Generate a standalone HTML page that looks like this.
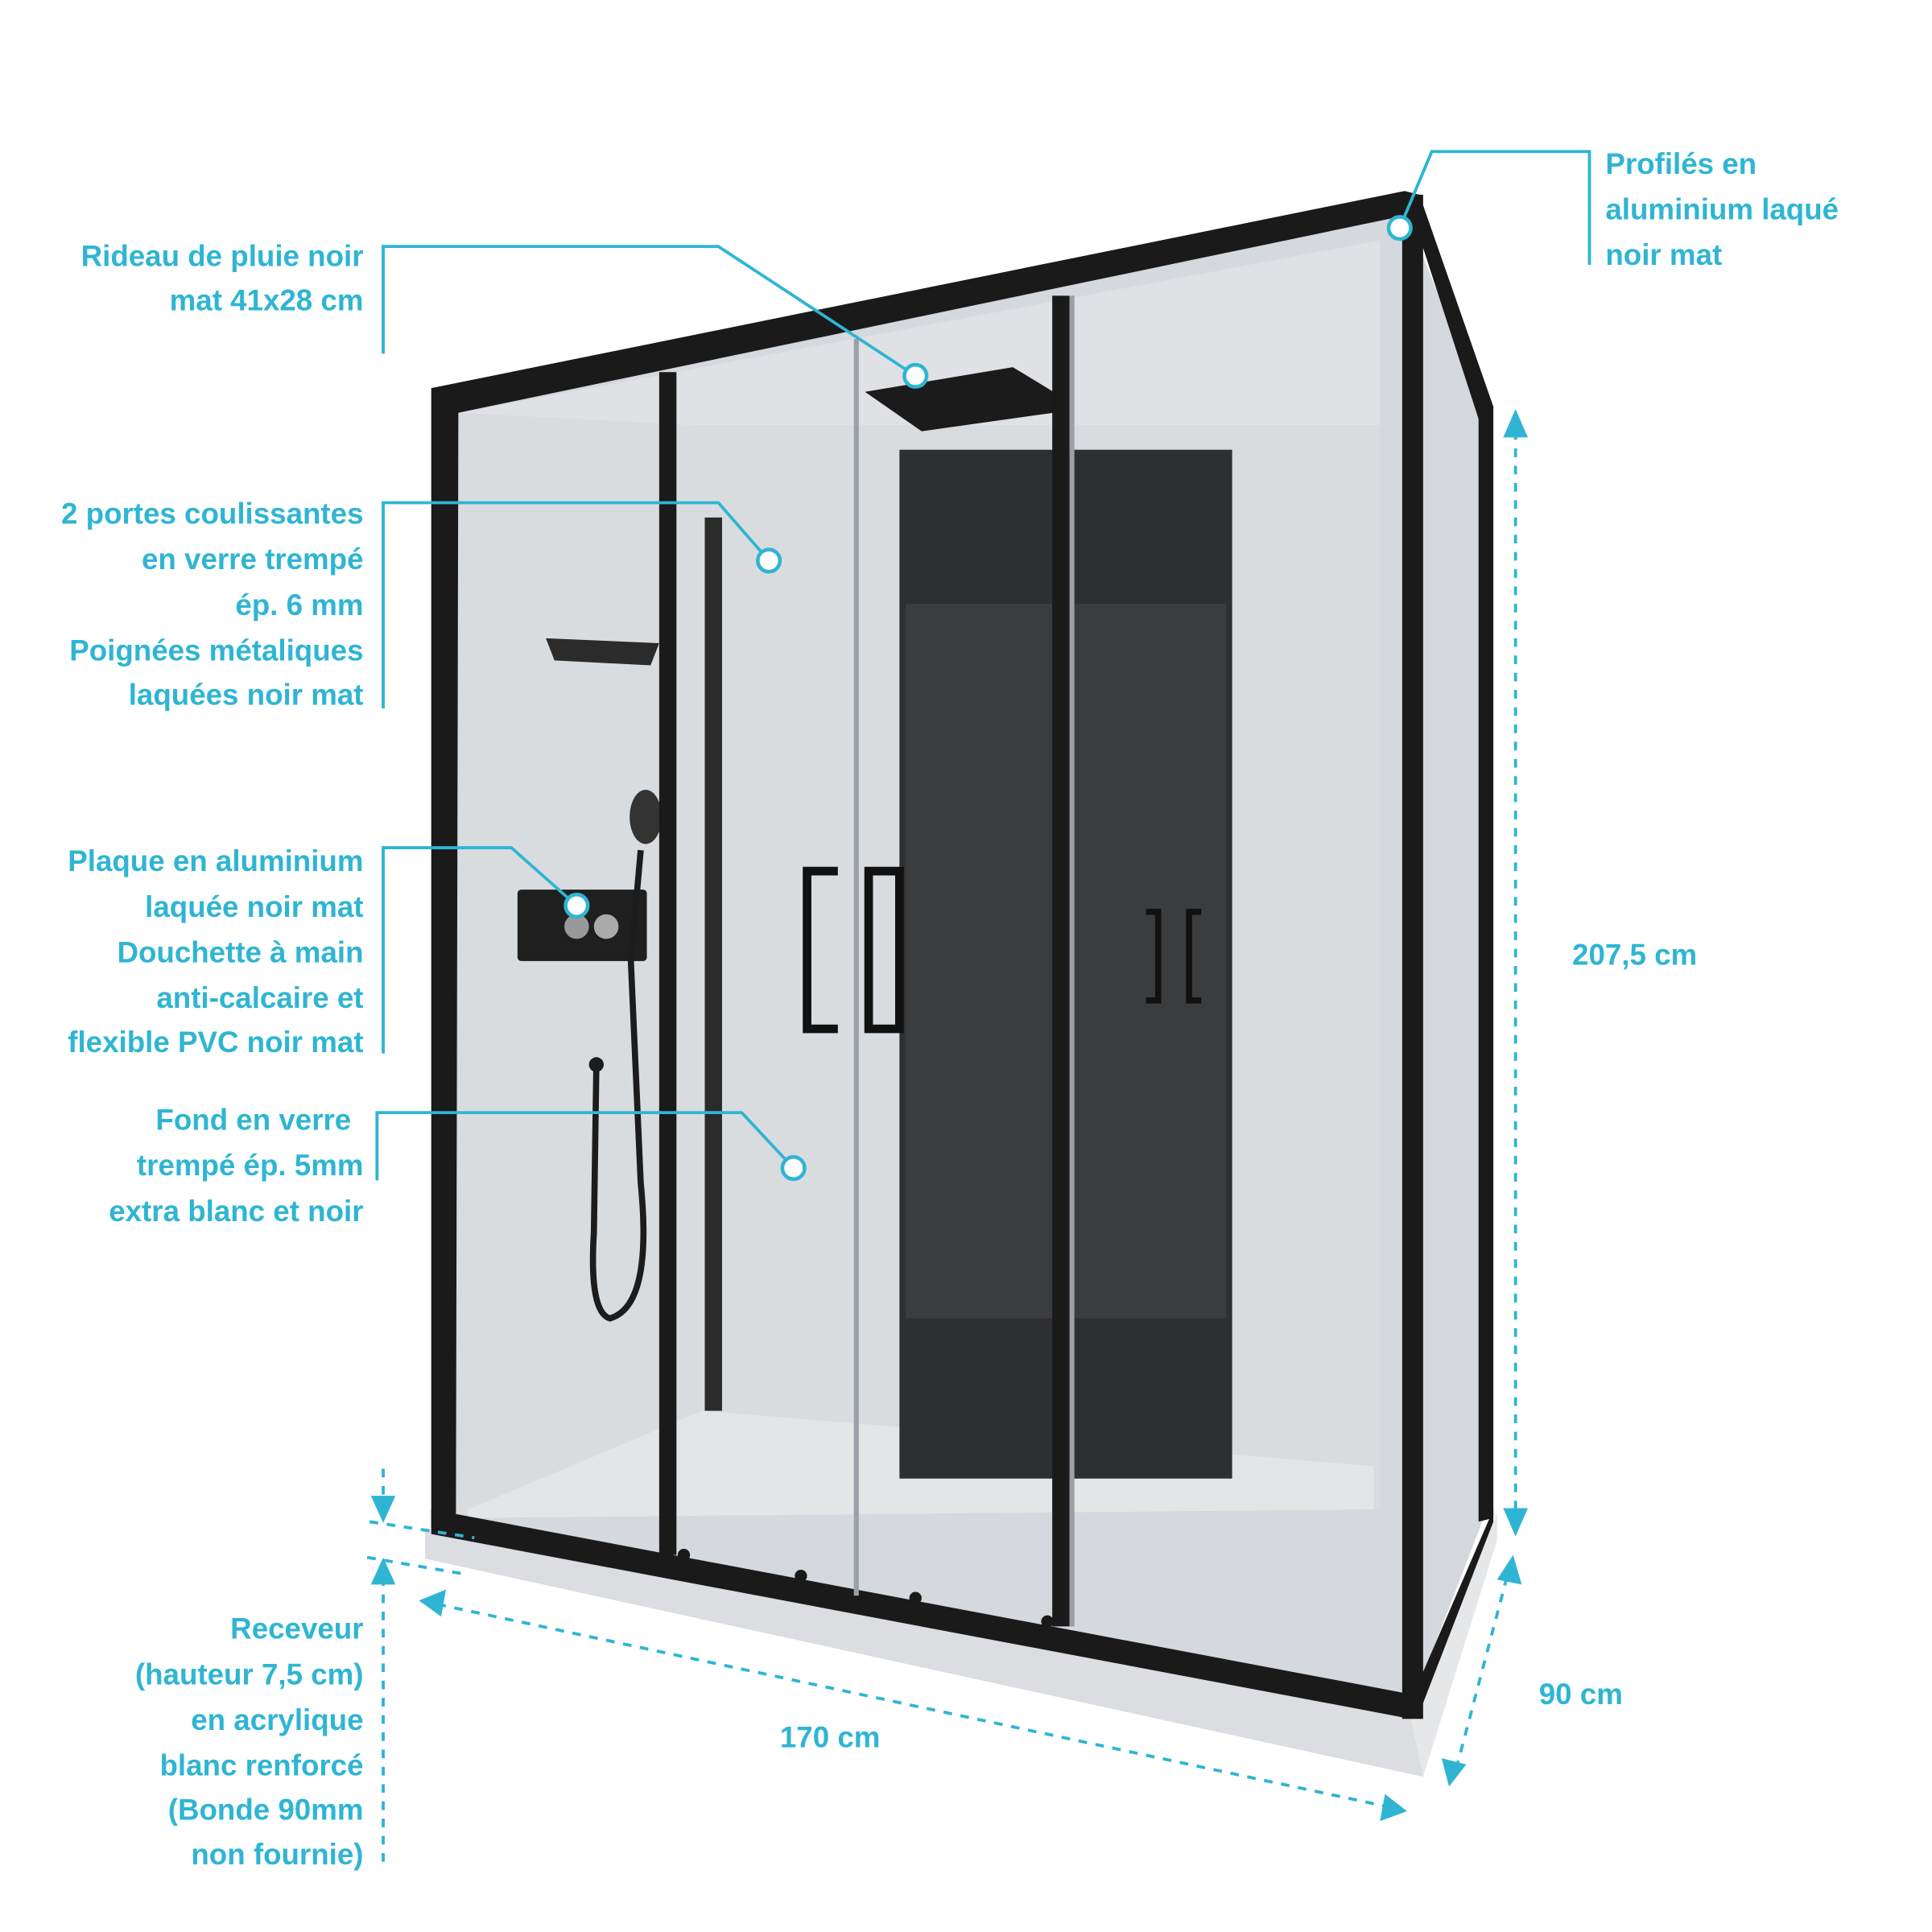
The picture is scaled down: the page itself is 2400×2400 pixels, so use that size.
<!DOCTYPE html>
<html><head><meta charset="utf-8"><style>
html,body{margin:0;padding:0;background:#fff;}
svg{display:block;}
text{font-family:"Liberation Sans",sans-serif;font-weight:bold;fill:#2fb5d3;font-size:24px;}
</style></head><body>
<svg width="2400" height="2400" viewBox="0 0 1568 1568" xmlns="http://www.w3.org/2000/svg">
<rect width="1568" height="1568" fill="#fff"/>
<!-- tray -->
<polygon points="345,1240 1145,1395 1215,1228 1215,1250 1155,1442 345,1265" fill="#e6e7e9"/>
<polygon points="345,1240 1145,1395 1155,1442 345,1265" fill="#dcdde0"/>
<!-- glass interior -->
<polygon points="360,325 1140,170 1205,335 1205,1230 1145,1385 360,1235" fill="#d5d8dc"/>
<polygon points="372,335 1120,195 1120,1225 372,1230" fill="#dfe1e4"/>
<polygon points="372,335 560,345 1120,345 1120,1225 372,1230" fill="#d9dcdf"/>
<!-- floor -->
<polygon points="380,1225 570,1145 1115,1190 1115,1225 380,1232" fill="#e4e5e7"/>
<!-- back dark panel -->
<rect x="730" y="365" width="270" height="835" fill="#2e2f31"/>
<rect x="735" y="490" width="260" height="580" fill="#3b3c3e"/>
<rect x="572" y="420" width="14" height="725" fill="#2a2a2a"/>
<!-- shelf -->
<polygon points="443,518 535,522 528,540 450,536" fill="#2b2b2b"/>
<!-- mixer plate -->
<rect x="420" y="722" width="105" height="58" rx="3" fill="#1f1f1f"/>
<circle cx="468" cy="752" r="10" fill="#999"/><circle cx="492" cy="752" r="10" fill="#aaa"/>
<!-- hand shower & hose -->
<ellipse cx="524" cy="663" rx="13" ry="22" fill="#333"/>
<path d="M520,690 L512,780 L520,960 Q530,1060 495,1070 Q478,1065 482,1000 L484,865" stroke="#1c1c1c" stroke-width="5" fill="none"/>
<circle cx="484" cy="864" r="6" fill="#1c1c1c"/>
<!-- rain shower -->
<polygon points="702,318 822,298 855,318 855,335 748,350" fill="#1b1b1b"/>
<!-- handles -->
<path d="M680,707 H655 V835 H680" stroke="#111" stroke-width="7" fill="none"/>
<path d="M705,835 H730 V707 H705 Z" stroke="#111" stroke-width="7" fill="none"/>
<path d="M930,740 H940 V812 H930" stroke="#111" stroke-width="5" fill="none"/>
<path d="M975,740 H965 V812 H975" stroke="#111" stroke-width="5" fill="none"/>
<!-- frame -->
<g fill="#1a1a1a">
<polygon points="350,315 1140,155 1150,170 1140,175 372,335 370,1235 350,1240"/>
<polygon points="1138,158 1155,158 1155,1395 1138,1395"/>
<polygon points="1140,155 1152,158 1212,330 1212,1232 1200,1235 1200,340"/>
<polygon points="350,1225 1145,1375 1145,1395 350,1245"/>
<polygon points="1145,1380 1212,1225 1212,1235 1150,1395"/>
<rect x="535" y="302" width="14" height="960"/>
<rect x="854" y="240" width="14" height="1080"/>
<rect x="693" y="275" width="4" height="1020" fill="#9aa0a5"/>
<rect x="868" y="240" width="4" height="1080" fill="#9aa0a5"/>
<circle cx="555" cy="1262" r="5"/><circle cx="650" cy="1279" r="5"/><circle cx="743" cy="1297" r="5"/><circle cx="850" cy="1316" r="5"/>
</g>
<!-- callout lines -->
<g stroke="#2fb5d3" stroke-width="2.5" fill="none">
<polyline points="311,287 311,200 583,200 743,305"/>
<polyline points="311,575 311,408 583,408 624,455"/>
<polyline points="311,855 311,688 415,688 468,735"/>
<polyline points="306,958 306,903 602,903 644,948"/>
<polyline points="1290,215 1290,123 1162,123 1136,185"/>
</g>
<g fill="#fff" stroke="#2fb5d3" stroke-width="3">
<circle cx="743" cy="305" r="9"/><circle cx="624" cy="455" r="9"/><circle cx="468" cy="735" r="9"/><circle cx="644" cy="948" r="9"/><circle cx="1136" cy="185" r="9"/>
</g>
<!-- dimension lines -->
<g stroke="#2fb5d3" stroke-width="2.5" fill="none" stroke-dasharray="7,7">
<line x1="1230" y1="350" x2="1230" y2="1230"/>
<line x1="355" y1="1302" x2="1125" y2="1466"/>
<line x1="1223" y1="1280" x2="1182" y2="1435"/>
<line x1="311" y1="1192" x2="311" y2="1222"/>
<line x1="311" y1="1280" x2="311" y2="1515"/>
<line x1="300" y1="1235" x2="385" y2="1248"/>
<line x1="298" y1="1264" x2="380" y2="1278"/>
</g>
<g fill="#2fb5d3">
<polygon points="1230,332 1220,355 1240,355"/>
<polygon points="1230,1247 1220,1224 1240,1224"/>
<polygon points="340,1299 362,1290 358,1312"/>
<polygon points="1142,1470 1120,1478 1124,1456"/>
<polygon points="1228,1262 1215,1282 1235,1286"/>
<polygon points="1176,1450 1170,1427 1190,1432"/>
<polygon points="311,1236 301,1214 321,1214"/>
<polygon points="311,1264 301,1286 321,1286"/>
</g>
<!-- labels -->
<g text-anchor="end">
<text x="295" y="216">Rideau de pluie noir</text>
<text x="295" y="252">mat 41x28 cm</text>
<text x="295" y="425">2 portes coulissantes</text>
<text x="295" y="462">en verre trempé</text>
<text x="295" y="499">ép. 6 mm</text>
<text x="295" y="536">Poignées métaliques</text>
<text x="295" y="572">laquées noir mat</text>
<text x="295" y="707">Plaque en aluminium</text>
<text x="295" y="744">laquée noir mat</text>
<text x="295" y="781">Douchette à main</text>
<text x="295" y="818">anti-calcaire et</text>
<text x="295" y="854">flexible PVC noir mat</text>
<text x="285" y="917">Fond en verre</text>
<text x="295" y="954">trempé ép. 5mm</text>
<text x="295" y="991">extra blanc et noir</text>
<text x="295" y="1330">Receveur</text>
<text x="295" y="1367">(hauteur 7,5 cm)</text>
<text x="295" y="1404">en acrylique</text>
<text x="295" y="1441">blanc renforcé</text>
<text x="295" y="1477">(Bonde 90mm</text>
<text x="295" y="1513">non fournie)</text>
</g>
<text x="1303" y="141">Profilés en</text>
<text x="1303" y="178">aluminium laqué</text>
<text x="1303" y="215">noir mat</text>
<text x="1276" y="783">207,5 cm</text>
<text x="633" y="1418">170 cm</text>
<text x="1249" y="1383">90 cm</text>
</svg>
</body></html>
